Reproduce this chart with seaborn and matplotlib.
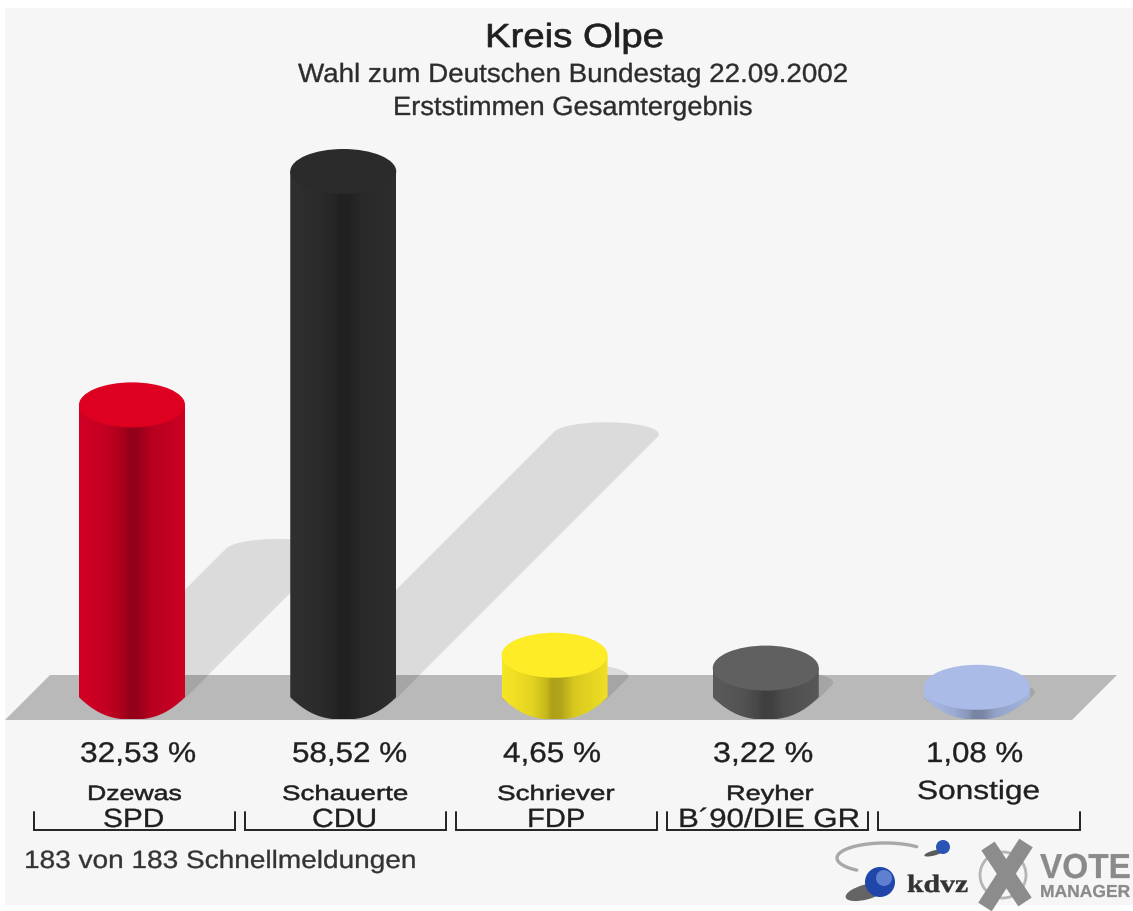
import numpy as np
import pandas as pd
import seaborn as sns
import matplotlib.pyplot as plt
from matplotlib.colors import to_rgb
from matplotlib.patches import Ellipse, Polygon, Rectangle, Circle
from matplotlib.patheffects import AbstractPathEffect
from matplotlib.transforms import Affine2D

kandidaten = ['Dzewas', 'Schauerte', 'Schriever', 'Reyher', 'Sonstige']
parteien = ['SPD', 'CDU', 'FDP', 'B´90/DIE GR', '']
prozent = [32.53, 58.52, 4.65, 3.22, 1.08]
seite = ['#d20024', '#2f2f2f', '#f8e624', '#5a5a5a', '#a9bbe6']
deckel = ['#de0020', '#2b2b2b', '#fdec26', '#606060', '#a9bbe6']

W, H = 1133, 911
PX_PRO_PROZENT = 8.98
BASIS_Y = 697      # pixel row of value 0
ABSTAND = 211.25   # pixels between bars
START_X = 132
BAR_B = 106
BAR_RY = 22.5

sns.set_theme(style='white')
plt.rcParams['font.family'] = ['Liberation Sans', 'DejaVu Sans']

fig = plt.figure(figsize=(W / 100, H / 100), dpi=100, facecolor='white')
ax = fig.add_axes([0, 0, 1, 1])
ax.set_axis_off()
px = Affine2D().scale(1, -1).translate(0, H)  # reference pixels, y going down
renderer = fig.canvas.get_renderer()

ax.add_patch(Rectangle((5, 8), W - 5, H - 14, fc='#f6f6f6', ec='none', transform=px, zorder=0))
ax.add_patch(Polygon([(5, 720), (50, 675), (1117, 675), (1072, 720)], fc='#b9b9b9', ec='none',
                     transform=px, zorder=1))

df = pd.DataFrame({'kandidat': kandidaten, 'prozent': prozent})
sns.barplot(data=df, x='kandidat', y='prozent', hue='kandidat', palette=seite, saturation=1,
            width=BAR_B / ABSTAND, legend=False, ax=ax, zorder=3)
balken = [c[0] for c in ax.containers]

# shadows, sheared up to the right
a, b = 53, 12
t0 = np.arctan2(b, a)
for i, v in enumerate(prozent):
    cx = START_X + i * ABSTAND
    s = v * PX_PRO_PROZENT * 0.5
    t_oben = np.linspace(t0 + np.pi, t0 + 2 * np.pi, 40)
    t_unten = np.linspace(t0, t0 + np.pi, 40)
    oben = np.c_[cx + s + a * np.cos(t_oben), BASIS_Y - s + b * np.sin(t_oben)]
    unten = np.c_[cx + a * np.cos(t_unten), BASIS_Y + b * np.sin(t_unten)]
    ax.add_patch(Polygon(np.r_[oben, unten], fc='black', ec='none', alpha=0.105, transform=px, zorder=2))

# cylinder shading over the bars
stops = [0, 0.28, 0.42, 0.47, 0.56, 0.68, 1]
faktor = [1, 0.92, 0.80, 0.70, 0.72, 0.87, 0.97]
xs = np.linspace(0, 1, 128)
ry = BAR_RY / PX_PRO_PROZENT
for bar, farbe_s, farbe_d in zip(balken, seite, deckel):
    x0, w, h = bar.get_x(), bar.get_width(), bar.get_height()
    cx = x0 + w / 2
    streifen = np.interp(xs, stops, faktor)[None, :, None] * np.array(to_rgb(farbe_s))
    im = ax.imshow(streifen, extent=[x0, x0 + w, -ry, h], aspect='auto', zorder=4)
    u = np.linspace(1, -1, 50)
    rand = np.c_[cx + w / 2 * u, -ry * (1 - np.abs(u) ** 2.4)]  # the foot is more of a shield than an ellipse
    clip = Polygon(np.r_[[[x0, h], [x0 + w, h]], rand], transform=ax.transData, fc='none', ec='none')
    ax.add_patch(clip)
    im.set_clip_path(clip)
    bar.set_visible(False)
    ax.add_patch(Ellipse((cx, h), w, 2 * ry, fc=farbe_d, ec='none', zorder=5))

ax.set_xlim(-START_X / ABSTAND, (W - START_X) / ABSTAND)
ax.set_ylim(-(H - BASIS_Y) / PX_PRO_PROZENT, BASIS_Y / PX_PRO_PROZENT)
ax.set_axis_off()


class Streck(AbstractPathEffect):
    # the reference text is wider than the font, stretch it sideways
    def __init__(self, fx, lw):
        self.fx = fx
        self.lw = lw

    def draw_path(self, renderer, gc, tpath, affine, rgbFace=None):
        gc0 = renderer.new_gc()
        gc0.copy_properties(gc)
        gc0.set_linewidth(self.lw)
        renderer.draw_path(gc0, tpath, Affine2D().scale(self.fx, 1) + affine, rgbFace)
        gc0.restore()


def txt(x0, x1, y, s, size, color='#1f1f1f', lw=0.25, **kw):
    t = ax.text(x0, y, s, fontsize=size, ha='left', va='baseline', color=color, transform=px, zorder=7, **kw)
    t.set_path_effects([Streck((x1 - x0) / t.get_window_extent(renderer).width, lw)])


txt(485, 664, 47, 'Kreis Olpe', 24, lw=0.5)
txt(298, 849, 82, 'Wahl zum Deutschen Bundestag 22.09.2002', 19, color='#2c2c2c')
txt(393, 753, 115, 'Erststimmen Gesamtergebnis', 19, color='#2c2c2c')

prozent_x = [(80, 196), (292, 407), (503, 601), (713, 813), (926, 1023)]
namen_x = [(87, 182), (282, 409), (497, 615), (726, 814), (917, 1040)]
partei_x = [(103, 164), (312, 377), (527, 585), (678, 860)]
klammer_x = [(34, 235), (245, 446), (456, 657), (667, 868), (878, 1080)]
for i, v in enumerate(prozent):
    txt(*prozent_x[i], 762, f'{v:.2f}'.replace('.', ',') + ' %', 20.5)
    if kandidaten[i] == 'Sonstige':
        txt(*namen_x[i], 799, kandidaten[i], 19)
    else:
        txt(*namen_x[i], 800, kandidaten[i], 15, lw=0.4)
        txt(*partei_x[i], 827, parteien[i], 19)
    l, r = klammer_x[i]
    ax.plot([l, l, r, r], [812, 830, 830, 812], color='#222222', lw=1.4, transform=px, zorder=6,
            solid_joinstyle='miter')

txt(24, 417, 868, '183 von 183 Schnellmeldungen', 18, color='#333333')

# kdvz / VoteManager logos
t = np.linspace(0.27, 1.3, 60) * np.pi
ax.plot(885 + 48 * np.cos(t), 858 - 15 * np.sin(t), color='#a8a8a8', lw=2.4, transform=px, zorder=6)
ax.add_patch(Ellipse((866, 892), 42, 15, angle=-15, fc='#333333', ec='none', alpha=0.75, transform=px, zorder=6))
ax.add_patch(Ellipse((934, 853), 20, 5, angle=-15, fc='#333333', ec='none', alpha=0.8, transform=px, zorder=6))
ax.add_patch(Circle((880, 882), 15, fc='#1f46a8', ec='none', transform=px, zorder=7))
ax.add_patch(Circle((884, 878), 8, fc='#5f80d0', ec='none', transform=px, zorder=7))
ax.add_patch(Circle((943, 847), 7, fc='#2a55b5', ec='none', transform=px, zorder=7))
txt(907, 968, 892, 'kdvz', 18, color='#333333', lw=0.3, family='Liberation Serif', fontweight='bold')
ax.add_patch(Circle((1003, 875), 23, fc='none', ec='#b5b5b5', lw=2, transform=px, zorder=6))
ax.plot([988, 1025], [846, 902], color='#8c8c8c', lw=11.5, transform=px, zorder=7, solid_capstyle='butt')
ax.plot([1026, 985], [843, 907], color='#8c8c8c', lw=11.5, transform=px, zorder=7, solid_capstyle='butt')
txt(1040, 1131, 878, 'VOTE', 25, color='#8a8a8a', lw=0.2, fontweight='bold')
txt(1040, 1130, 897, 'MANAGER', 12.5, color='#8a8a8a', lw=0.2, fontweight='bold')

fig.savefig('out.png', dpi=100)
